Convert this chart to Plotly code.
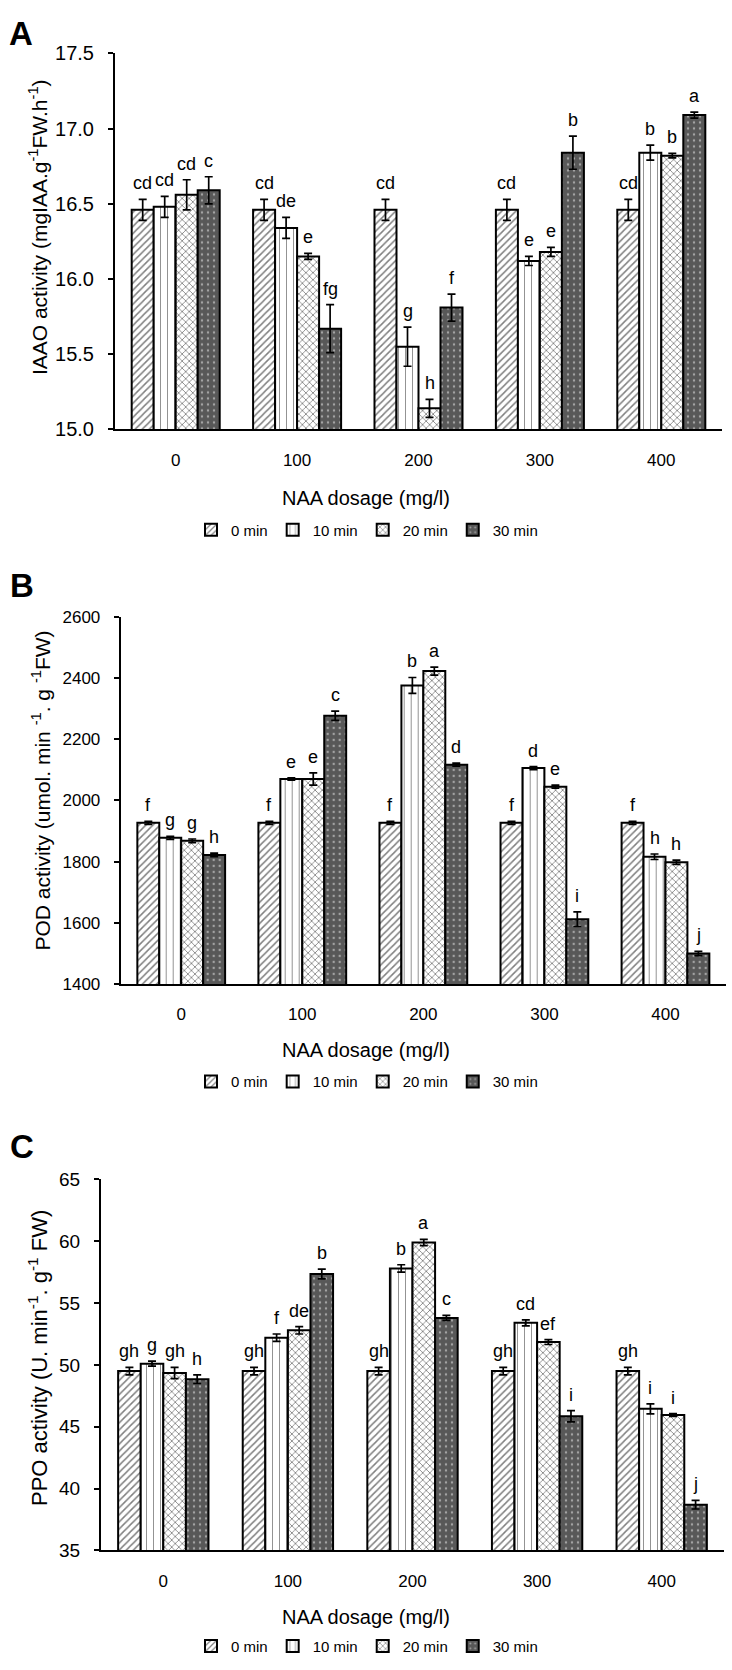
import plotly.graph_objects as go

W, H = 732, 1670

# ---------------- data ----------------
doses = ["0", "100", "200", "300", "400"]
series = ["0 min", "10 min", "20 min", "30 min"]

# Panel A: IAAO activity
iaao_0 = [16.46, 16.46, 16.46, 16.46, 16.46]
iaao_10 = [16.48, 16.34, 15.55, 16.12, 16.84]
iaao_20 = [16.56, 16.15, 15.14, 16.18, 16.82]
iaao_30 = [16.59, 15.67, 15.81, 16.84, 17.09]
iaao_err_0 = [0.07, 0.07, 0.07, 0.07, 0.07]
iaao_err_10 = [0.07, 0.07, 0.13, 0.03, 0.05]
iaao_err_20 = [0.10, 0.02, 0.06, 0.03, 0.015]
iaao_err_30 = [0.09, 0.16, 0.09, 0.11, 0.02]
iaao_let_0 = ["cd", "cd", "cd", "cd", "cd"]
iaao_let_10 = ["cd", "de", "g", "e", "b"]
iaao_let_20 = ["cd", "e", "h", "e", "b"]
iaao_let_30 = ["c", "fg", "f", "b", "a"]

# Panel B: POD activity
pod_0 = [1927, 1927, 1927, 1927, 1927]
pod_10 = [1878, 2070, 2376, 2106, 1816]
pod_20 = [1868, 2070, 2423, 2045, 1798]
pod_30 = [1822, 2277, 2117, 1612, 1500]
pod_err_0 = [5, 5, 5, 5, 5]
pod_err_10 = [5, 4, 26, 5, 9]
pod_err_20 = [6, 20, 13, 5, 7]
pod_err_30 = [6, 15, 5, 24, 7]
pod_let_0 = ["f", "f", "f", "f", "f"]
pod_let_10 = ["g", "e", "b", "d", "h"]
pod_let_20 = ["g", "e", "a", "e", "h"]
pod_let_30 = ["h", "c", "d", "i", "j"]

# Panel C: PPO activity
ppo_0 = [49.5, 49.5, 49.5, 49.5, 49.5]
ppo_10 = [50.1, 52.2, 57.8, 53.4, 46.45]
ppo_20 = [49.35, 52.8, 59.9, 51.85, 45.95]
ppo_30 = [48.85, 57.35, 53.8, 45.85, 38.7]
ppo_err_0 = [0.3, 0.3, 0.3, 0.3, 0.3]
ppo_err_10 = [0.2, 0.3, 0.3, 0.25, 0.4]
ppo_err_20 = [0.45, 0.3, 0.25, 0.2, 0.12]
ppo_err_30 = [0.35, 0.4, 0.2, 0.45, 0.35]
ppo_let_0 = ["gh", "gh", "gh", "gh", "gh"]
ppo_let_10 = ["g", "f", "b", "cd", "i"]
ppo_let_20 = ["gh", "de", "a", "ef", "i"]
ppo_let_30 = ["h", "b", "c", "i", "j"]

# ---------------- styles ----------------
FONT = "Liberation Sans, Arial, sans-serif"
BARGAP = 0.275

patterns = {
    "0 min": dict(shape="/", fgcolor="black", bgcolor="white", size=5, solidity=0.3),
    "10 min": dict(shape="|", fgcolor="#222222", bgcolor="white", size=7, solidity=0.14),
    "20 min": dict(shape="x", fgcolor="black", bgcolor="white", size=5, solidity=0.3),
    "30 min": dict(shape=".", fgcolor="#f2f2f2", bgcolor="#585858", size=6, solidity=0.12),
}
fills = {"0 min": "white", "10 min": "white", "20 min": "white", "30 min": "#585858"}

panels = [
    dict(vals=[iaao_0, iaao_10, iaao_20, iaao_30],
         errs=[iaao_err_0, iaao_err_10, iaao_err_20, iaao_err_30],
         lets=[iaao_let_0, iaao_let_10, iaao_let_20, iaao_let_30],
         rng=[15, 17.5], dtick=0.5, fmt=".1f", tickfont=20,
         px_x=(115, 722), px_y=(43, 424),
         ytitle="IAAO activity (mgIAA.g<sup>-1</sup>FW.h<sup>-1</sup>)",
         ytitle_x=38, ytitle_y=219, ytitle_size=21,
         label="A", label_xy=(7, 23),
         xtitle_y=494, legend_y=526),
    dict(vals=[pod_0, pod_10, pod_20, pod_30],
         errs=[pod_err_0, pod_err_10, pod_err_20, pod_err_30],
         lets=[pod_let_0, pod_let_10, pod_let_20, pod_let_30],
         rng=[1400, 2600], dtick=200, fmt="d", tickfont=17,
         px_x=(120.7, 726), px_y=(614, 986),
         ytitle="POD activity (umol. min <sup>-1</sup>. g <sup>-1</sup>FW)",
         ytitle_x=41, ytitle_y=790, ytitle_size=21,
         label="B", label_xy=(8, 582),
         xtitle_y=1053, legend_y=1085),
    dict(vals=[ppo_0, ppo_10, ppo_20, ppo_30],
         errs=[ppo_err_0, ppo_err_10, ppo_err_20, ppo_err_30],
         lets=[ppo_let_0, ppo_let_10, ppo_let_20, ppo_let_30],
         rng=[35, 65], dtick=5, fmt="d", tickfont=19,
         px_x=(101, 724), px_y=(1184, 1560),
         ytitle="PPO activity (U. min<sup>-1</sup>. g<sup>-1</sup> FW)",
         ytitle_x=38, ytitle_y=1365, ytitle_size=22,
         label="C", label_xy=(8, 1151),
         xtitle_y=1627, legend_y=1657),
]

fig = go.Figure()
annotations = []
layout_axes = {}

for p_i, p in enumerate(panels):
    sfx = "" if p_i == 0 else str(p_i + 1)
    xa, ya = "x" + sfx, "y" + sfx
    leg = "legend" + sfx
    bw = (1 - BARGAP) / len(series)
    for s_i, name in enumerate(series):
        fig.add_trace(go.Bar(
            x=doses, y=p["vals"][s_i], name=name,
            xaxis=xa, yaxis=ya, legend=leg,
            marker=dict(color=fills[name], line=dict(color="black", width=2),
                        pattern=patterns[name]),
            error_y=dict(type="data", array=p["errs"][s_i], color="black",
                         thickness=1.7, width=4),
        ))
        for d_i in range(len(doses)):
            annotations.append(dict(
                x=d_i + (s_i - 1.5) * bw,
                y=p["vals"][s_i][d_i] + p["errs"][s_i][d_i],
                xref=xa, yref=ya, text=p["lets"][s_i][d_i], showarrow=False,
                yanchor="bottom", xanchor="center", yshift=4,
                font=dict(family=FONT, size=18, color="black")))

    x0, x1 = p["px_x"]
    y0, y1 = p["px_y"]
    layout_axes["xaxis" + sfx] = dict(
        domain=[x0 / W, x1 / W], anchor=ya, type="category",
        showline=True, linecolor="black", linewidth=2, ticks="",
        ticklabelstandoff=14,
        tickfont=dict(family=FONT, size=17, color="black"),
        showgrid=False, zeroline=False, fixedrange=True)
    layout_axes["yaxis" + sfx] = dict(
        domain=[1 - y1 / H, 1 - y0 / H], anchor=xa, range=p["rng"],
        dtick=p["dtick"], tick0=p["rng"][0], tickformat=p["fmt"],
        showline=True, linecolor="black", linewidth=2,
        ticks="outside", ticklen=5, tickwidth=1.5, tickcolor="black",
        ticklabelstandoff=10,
        tickfont=dict(family=FONT, size=p["tickfont"], color="black"),
        showgrid=False, zeroline=False, fixedrange=True)
    layout_axes[leg] = dict(
        orientation="h", x=367 / W, xanchor="center",
        y=1 - p["legend_y"] / H, yanchor="middle",
        font=dict(family=FONT, size=15, color="black"),
        itemwidth=30, bgcolor="rgba(0,0,0,0)", traceorder="normal")

    annotations.append(dict(
        x=p["ytitle_x"] / W, y=1 - p["ytitle_y"] / H, xref="paper", yref="paper",
        text=p["ytitle"], textangle=-90, showarrow=False,
        xanchor="center", yanchor="middle",
        font=dict(family=FONT, size=p["ytitle_size"], color="black")))
    annotations.append(dict(
        x=366 / W, y=1 - p["xtitle_y"] / H, xref="paper", yref="paper",
        text="NAA dosage (mg/l)", showarrow=False,
        xanchor="center", yanchor="middle",
        font=dict(family=FONT, size=20, color="black")))
    annotations.append(dict(
        x=p["label_xy"][0] / W, y=1 - p["label_xy"][1] / H, xref="paper", yref="paper",
        text="<b>" + p["label"] + "</b>", showarrow=False,
        xanchor="left", yanchor="middle",
        font=dict(family=FONT, size=33, color="black")))

fig.update_layout(
    width=W, height=H,
    margin=dict(l=0, r=0, t=0, b=0),
    paper_bgcolor="white", plot_bgcolor="white",
    barmode="group", bargap=BARGAP, bargroupgap=0,
    showlegend=True,
    annotations=annotations,
    font=dict(family=FONT, color="black"),
    **layout_axes,
)

fig.write_html(
    "out.html",
    config={"displayModeBar": False},
    post_script="document.body.style.margin='0';document.body.style.overflow='hidden';",
)
